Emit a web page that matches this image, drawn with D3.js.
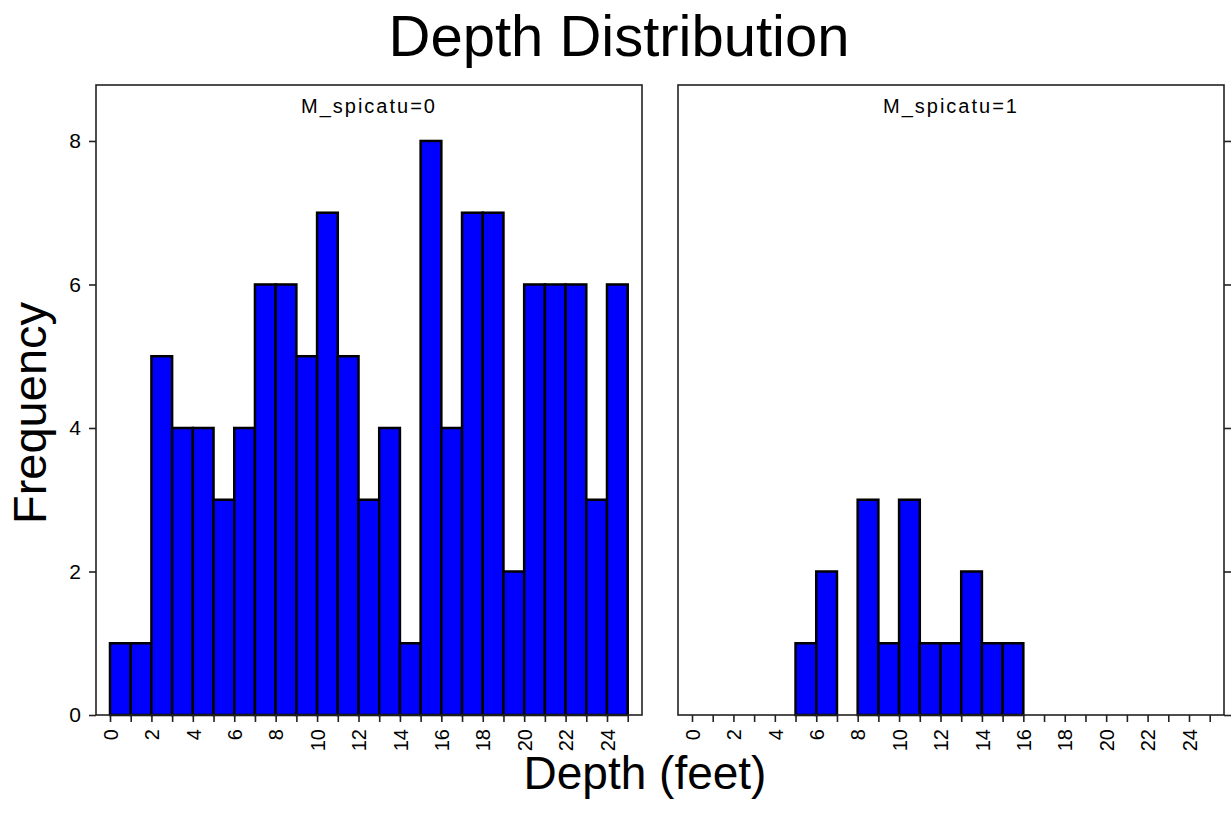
<!DOCTYPE html>
<html>
<head>
<meta charset="utf-8">
<script src="https://cdn.jsdelivr.net/npm/d3@7"></script>
<style>
  body { margin: 0; background: #fff; }
  text { font-family: "Liberation Sans", Arial, sans-serif; fill: #000; }
</style>
</head>
<body>
<svg id="chart" width="1231" height="818"></svg>
<script>
// histogram bins (lower edge, depth in feet)
var binStarts = [0, 1, 2, 3, 4, 5, 6, 7, 8, 9, 10, 11, 12, 13, 14, 15, 16, 17, 18, 19, 20, 21, 22, 23, 24];
var freqSpicatu0 = [1, 1, 5, 4, 4, 3, 4, 6, 6, 5, 7, 5, 3, 4, 1, 8, 4, 7, 7, 2, 6, 6, 6, 3, 6];
var freqSpicatu1 = [0, 0, 0, 0, 0, 1, 2, 0, 3, 1, 3, 1, 1, 2, 1, 1, 0, 0, 0, 0, 0, 0, 0, 0, 0];
var panelTitles = ["M_spicatu=0", "M_spicatu=1"];
var xTicks = [0, 1, 2, 3, 4, 5, 6, 7, 8, 9, 10, 11, 12, 13, 14, 15, 16, 17, 18, 19, 20, 21, 22, 23, 24, 25];
var xTickLabels = [0, 2, 4, 6, 8, 10, 12, 14, 16, 18, 20, 22, 24];
var yTicks = [0, 2, 4, 6, 8];

var svg = d3.select("#chart"),
    plotTop = 85, plotBottom = 715,
    panelLeft = [96, 678],
    panelWidth = 546,
    series = [freqSpicatu0, freqSpicatu1];

var y = d3.scaleLinear().domain([0, 8.78]).range([plotBottom, plotTop]);

svg.append("text")
    .attr("x", 619).attr("y", 56)
    .attr("text-anchor", "middle")
    .style("font-size", "58px")
    .text("Depth Distribution");

svg.append("text")
    .attr("transform", "translate(46,413) rotate(-90)")
    .attr("text-anchor", "middle")
    .style("font-size", "47px")
    .text("Frequency");

svg.append("text")
    .attr("x", 645).attr("y", 789)
    .attr("text-anchor", "middle")
    .style("font-size", "46px")
    .text("Depth (feet)");

series.forEach(function (counts, i) {
    var left = panelLeft[i],
        x = d3.scaleLinear().domain([-0.676, 25.69]).range([left, left + panelWidth]),
        g = svg.append("g");

    var data = binStarts.map(function (b, j) {
        return {bin: b, value: counts[j]};
    }).filter(function (d) { return d.value > 0; });

    g.selectAll(".bar")
        .data(data)
        .enter().append("rect")
        .attr("class", "bar")
        .attr("x", function (d) { return x(d.bin); })
        .attr("y", function (d) { return y(d.value); })
        .attr("width", function (d) { return x(d.bin + 1) - x(d.bin); })
        .attr("height", function (d) { return y(0) - y(d.value); })
        .attr("fill", "#0000ff")
        .attr("stroke", "#000")
        .attr("stroke-width", 2.5);

    // frame
    g.append("rect")
        .attr("x", left).attr("y", plotTop)
        .attr("width", panelWidth).attr("height", plotBottom - plotTop)
        .attr("fill", "none")
        .attr("stroke", "#222")
        .attr("stroke-width", 1.6);

    var xAxis = g.append("g")
        .attr("transform", "translate(0," + plotBottom + ")")
        .call(d3.axisBottom(x).tickValues(xTicks).tickSize(7)
            .tickFormat(function (d) { return xTickLabels.indexOf(d) >= 0 ? d : ""; }));
    xAxis.select(".domain").remove();
    xAxis.selectAll("line").attr("stroke", "#222").attr("stroke-width", 1.6);
    xAxis.selectAll("text")
        .attr("transform", "rotate(-90)")
        .attr("x", -14).attr("y", 0).attr("dy", "0.36em")
        .attr("text-anchor", "end")
        .style("font-size", "20px")
        .attr("fill", "#000");

    var yAxis;
    if (i === 0) {
        yAxis = g.append("g")
            .attr("transform", "translate(" + left + ",0)")
            .call(d3.axisLeft(y).tickValues(yTicks).tickSize(7).tickPadding(8));
    } else {
        yAxis = g.append("g")
            .attr("transform", "translate(" + (left + panelWidth) + ",0)")
            .call(d3.axisRight(y).tickValues(yTicks).tickSize(7).tickFormat(""));
    }
    yAxis.select(".domain").remove();
    yAxis.selectAll("line").attr("stroke", "#222").attr("stroke-width", 1.6);
    yAxis.selectAll("text").style("font-size", "21px").attr("fill", "#000");

    g.append("text")
        .attr("x", left + panelWidth / 2).attr("y", 113)
        .attr("text-anchor", "middle")
        .style("font-size", "20px")
        .style("letter-spacing", "2px")
        .text(panelTitles[i]);
});
</script>
</body>
</html>
